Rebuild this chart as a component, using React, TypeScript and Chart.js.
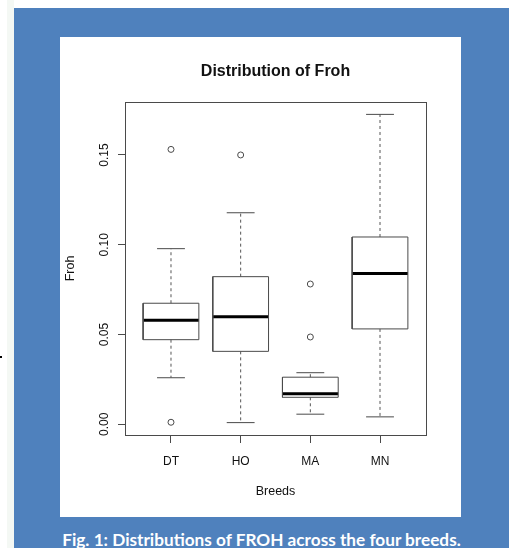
import React, { useEffect, useRef } from "react";
import { Chart, registerables } from "chart.js";

Chart.register(...registerables);

// ---- data ----
const breeds = ["DT", "HO", "MA", "MN"];
const lowerWhisker = [0.0259, 0.0009, 0.0056, 0.0041];
const q1 = [0.0471, 0.0406, 0.015, 0.0531];
const median = [0.0579, 0.0599, 0.017, 0.0839];
const q3 = [0.0674, 0.0822, 0.0262, 0.1043];
const upperWhisker = [0.0978, 0.1178, 0.0287, 0.1726];
const outliers = [[0.1531, 0.0011], [0.15], [0.0781, 0.0486], []];
const yTicks = [0, 0.05, 0.1, 0.15];
const chartTitle = "Distribution of Froh";

const BOX_HALF = 0.4;
const CAP_HALF = 0.2;

const FAMILY = "'Liberation Sans', Arial, sans-serif";
const axisFont = { family: FAMILY, size: 12 };
const lineColor = "#4a4a4a";

type P = { x: number; y: number | null };

function buildBoxes(): P[] {
  const pts: P[] = [];
  breeds.forEach((_, i) => {
    const x = i + 1;
    pts.push({ x: x - BOX_HALF, y: q1[i] }, { x: x + BOX_HALF, y: q1[i] }, { x: x + BOX_HALF, y: q3[i] }, { x: x - BOX_HALF, y: q3[i] }, { x: x - BOX_HALF, y: q1[i] }, { x, y: null });
  });
  return pts;
}
function buildMedians(): P[] {
  const pts: P[] = [];
  breeds.forEach((_, i) => {
    const x = i + 1;
    pts.push({ x: x - BOX_HALF, y: median[i] }, { x: x + BOX_HALF, y: median[i] }, { x, y: null });
  });
  return pts;
}
function buildWhiskers(): P[] {
  const pts: P[] = [];
  breeds.forEach((_, i) => {
    const x = i + 1;
    pts.push({ x, y: q3[i] }, { x, y: upperWhisker[i] }, { x, y: null }, { x, y: q1[i] }, { x, y: lowerWhisker[i] }, { x, y: null });
  });
  return pts;
}
function buildCaps(): P[] {
  const pts: P[] = [];
  breeds.forEach((_, i) => {
    const x = i + 1;
    pts.push({ x: x - CAP_HALF, y: upperWhisker[i] }, { x: x + CAP_HALF, y: upperWhisker[i] }, { x, y: null }, { x: x - CAP_HALF, y: lowerWhisker[i] }, { x: x + CAP_HALF, y: lowerWhisker[i] }, { x, y: null });
  });
  return pts;
}
function buildOutliers(): P[] {
  const pts: P[] = [];
  outliers.forEach((vals, i) => vals.forEach((v) => pts.push({ x: i + 1, y: v })));
  return pts;
}

// frame round the plot region and a title centred over it (as R does)
const plotFrame = {
  id: "plotFrame",
  afterDatasetsDraw(chart: any) {
    const { ctx, chartArea } = chart;
    ctx.save();
    ctx.strokeStyle = lineColor;
    ctx.lineWidth = 1;
    ctx.strokeRect(Math.round(chartArea.left) + 0.5, Math.round(chartArea.top) + 0.5, Math.round(chartArea.right - chartArea.left), Math.round(chartArea.bottom - chartArea.top));
    ctx.fillStyle = "#111";
    ctx.font = `bold 16px ${FAMILY}`;
    ctx.textAlign = "center";
    ctx.textBaseline = "middle";
    ctx.fillText(chartTitle, (chartArea.left + chartArea.right) / 2, chartArea.top - 30.5);
    ctx.restore();
  },
};

function BoxChart() {
  const ref = useRef<HTMLCanvasElement | null>(null);
  useEffect(() => {
    if (!ref.current) return;
    const lineDs = (data: P[], extra: any) => ({
      type: "scatter",
      data,
      showLine: true,
      spanGaps: false,
      pointRadius: 0,
      borderColor: lineColor,
      borderWidth: 1,
      ...extra,
    });
    const chart = new Chart(ref.current, {
      type: "scatter",
      data: {
        datasets: [
          lineDs(buildWhiskers(), { borderDash: [3, 3], borderColor: "#555" }),
          lineDs(buildCaps(), {}),
          lineDs(buildBoxes(), {}),
          lineDs(buildMedians(), { borderColor: "#000", borderWidth: 3 }),
          {
            type: "scatter",
            data: buildOutliers(),
            showLine: false,
            pointStyle: "circle",
            pointRadius: 3,
            borderWidth: 1,
            borderColor: "#4a4a4a",
            backgroundColor: "#ffffff",
          },
        ] as any,
      },
      options: {
        animation: false,
        responsive: false,
        maintainAspectRatio: false,
        events: [],
        layout: { padding: { left: 0, right: 35, top: 65, bottom: 0 } },
        plugins: {
          legend: { display: false },
          tooltip: { enabled: false },
          title: { display: false },
        },
        scales: {
          x: {
            type: "linear",
            min: 0.34,
            max: 4.66,
            afterBuildTicks: (s: any) => {
              s.ticks = breeds.map((_, i) => ({ value: i + 1 }));
            },
            afterFit: (s: any) => {
              s.height = 82;
            },
            ticks: {
              autoSkip: false,
              maxRotation: 0,
              minRotation: 0,
              padding: 11,
              color: "#111",
              font: axisFont,
              callback: (v: any) => breeds[Math.round(Number(v)) - 1] ?? "",
            },
            grid: { drawOnChartArea: false, drawTicks: true, tickLength: 8, color: lineColor },
            border: { display: false },
            title: { display: true, text: "Breeds", color: "#111", font: { ...axisFont, size: 12.5 }, padding: { top: 0, bottom: 18 } },
          },
          y: {
            type: "linear",
            min: -0.006,
            max: 0.1795,
            afterBuildTicks: (s: any) => {
              s.ticks = yTicks.map((v) => ({ value: v }));
            },
            afterFit: (s: any) => {
              s.width = 65;
            },
            ticks: {
              autoSkip: false,
              minRotation: 90,
              maxRotation: 90,
              crossAlign: "center",
              padding: 2,
              color: "#111",
              font: axisFont,
              callback: (v: any) => Number(v).toFixed(2),
            },
            grid: { drawOnChartArea: false, drawTicks: true, tickLength: 7, color: lineColor },
            border: { display: false },
            title: { display: true, text: "Froh", color: "#111", font: { ...axisFont, size: 12.5 }, padding: { top: 3, bottom: 0 } },
          },
        },
      } as any,
      plugins: [plotFrame],
    });
    return () => chart.destroy();
  }, []);
  return <canvas ref={ref} width={401} height={480} style={{ display: "block", width: 401, height: 480 }} />;
}

export default function App() {
  return (
    <div style={{ position: "absolute", left: 0, top: 0, width: 509, height: 548, overflow: "hidden", background: "#ffffff" }}>
      <div style={{ position: "absolute", left: 7, top: 0, width: 7, height: 548, background: "#f4f8f4" }} />
      <div style={{ position: "absolute", left: 0, top: 356, width: 2, height: 2, background: "#000" }} />
      <div style={{ position: "absolute", left: 14, top: 8, width: 495, height: 540, background: "#4f81bd" }} />
      <div style={{ position: "absolute", left: 60, top: 37, width: 401, height: 480, background: "#ffffff" }}>
        <BoxChart />
      </div>
      <div
        style={{
          position: "absolute",
          left: 14,
          width: 495,
          top: 531,
          textAlign: "center",
          color: "#ffffff",
          fontFamily: "Lato, 'Open Sans', sans-serif",
          fontWeight: 700,
          fontSize: 17.2,
          lineHeight: "17.2px",
          whiteSpace: "nowrap",
        }}
      >
        Fig. 1: Distributions of FROH across the four breeds.
      </div>
    </div>
  );
}
